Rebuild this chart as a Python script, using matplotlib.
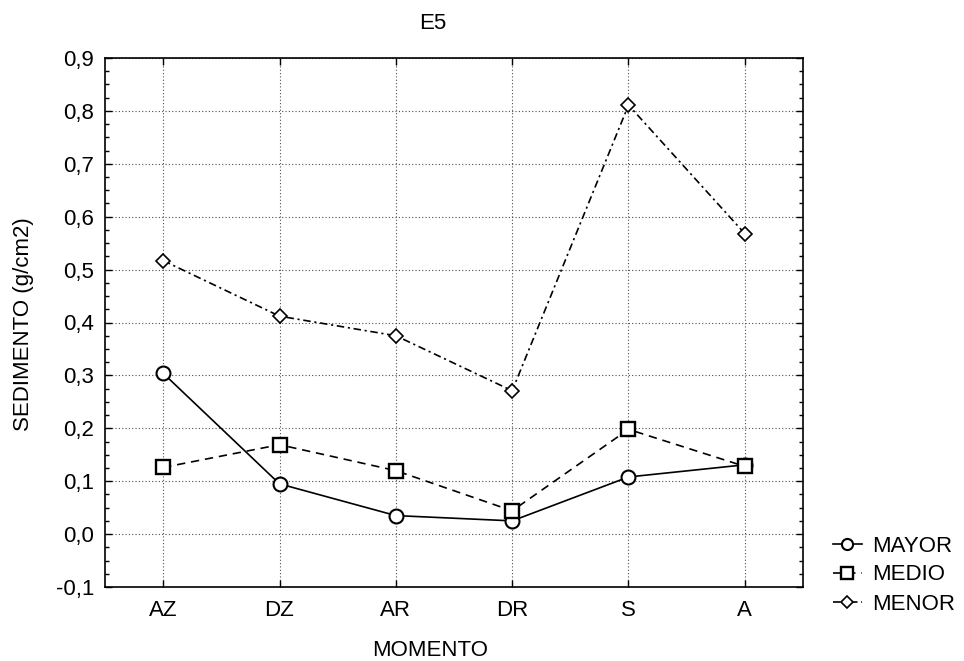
import matplotlib
matplotlib.use('Agg')
import matplotlib.pyplot as plt
from matplotlib.ticker import MultipleLocator, FuncFormatter

plt.rcParams['font.family'] = ['Liberation Sans', 'DejaVu Sans']

momentos = ['AZ', 'DZ', 'AR', 'DR', 'S', 'A']
mayor = [0.304, 0.095, 0.035, 0.025, 0.108, 0.131]
medio = [0.126, 0.169, 0.120, 0.044, 0.198, 0.128]
menor = [0.517, 0.412, 0.375, 0.271, 0.811, 0.568]

fig = plt.figure(figsize=(9.64, 6.61), dpi=100)
ax = fig.add_axes([105/964, 1-587/661, 698/964, 529/661])

x = range(len(momentos))
ax.plot(x, mayor, color='black', lw=1.2, ls='-', marker='o', ms=10,
        mfc='white', mec='black', mew=1.5, label='MAYOR', zorder=3)
ax.plot(x, medio, color='black', lw=1.2, ls=(0, (5, 3.5)), marker='s', ms=10.5,
        mfc='white', mec='black', mew=1.7, label='MEDIO', zorder=4)
ax.plot(x, menor, color='black', lw=1.2, ls=(0, (4.5, 2.2, 1.3, 2.2)), marker='D', ms=7.2,
        mfc='white', mec='black', mew=1.2, label='MENOR', zorder=3)

ax.set_xlim(-0.5, len(momentos) - 0.5)
ax.set_ylim(-0.1, 0.9)
ax.set_xticks(list(x))
ax.set_xticklabels(momentos)
ax.yaxis.set_major_locator(MultipleLocator(0.1))
ax.yaxis.set_minor_locator(MultipleLocator(0.025))
ax.yaxis.set_major_formatter(FuncFormatter(lambda v, p: f'{v:.1f}'.replace('.', ',')))

ax.tick_params(axis='both', which='both', direction='in', top=True, right=True,
               labelsize=16, colors='black')
ax.tick_params(axis='both', which='major', length=5, width=1)
ax.tick_params(axis='y', which='minor', length=3, width=1)
ax.tick_params(axis='x', which='major', pad=9)
ax.tick_params(axis='y', which='major', pad=8)

ax.grid(True, which='major', color='0.3', ls=(0, (1, 2)), lw=0.8)
for s in ax.spines.values():
    s.set_linewidth(1.2)

fig.text(433/964, 1-29/661, 'E5', ha='center', va='baseline', fontsize=16)
fig.text(430/964, 1-656/661, 'MOMENTO', ha='center', va='baseline', fontsize=16)
fig.text(24/964, 1-324/661, 'SEDIMENTO (g/cm2)', ha='center', va='center',
         rotation=90, fontsize=16)

ax.legend(loc='center left', bbox_to_anchor=(833/964, 1-575/661),
          bbox_transform=fig.transFigure, frameon=False, fontsize=16,
          handlelength=1.3, handletextpad=0.45, labelspacing=0.36,
          borderpad=0, borderaxespad=0, markerscale=0.8)

fig.savefig('out.png', dpi=100)
